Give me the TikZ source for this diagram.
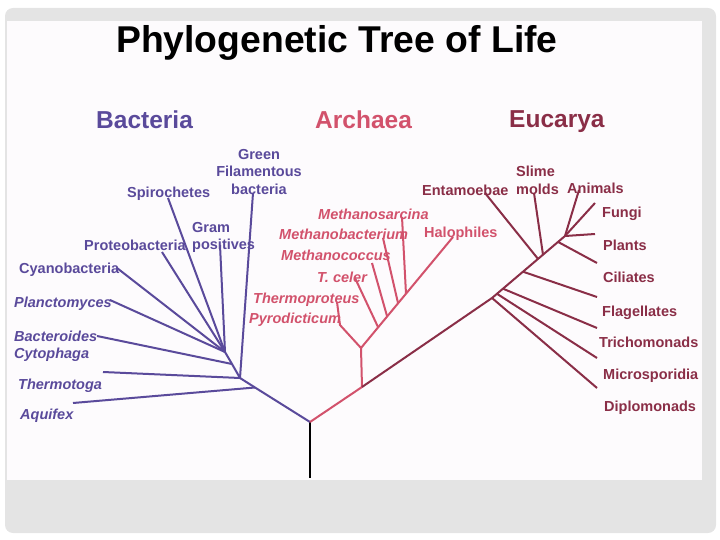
\documentclass[tikz,border=0pt]{standalone}
\usepackage{fontspec}
\setmainfont{Liberation Sans}
\usepackage{tikz}
\usetikzlibrary{positioning}
\definecolor{cBac}  {HTML}{5A4A9B}
\definecolor{cArc}  {HTML}{D2526C}
\definecolor{cEuk}  {HTML}{8A2E47}
\definecolor{cFrame}{HTML}{E4E4E4}
\definecolor{cPanel}{HTML}{FDFBFD}
\tikzset{
  lbl/.style ={inner sep=0pt,align=left,
               font=\fontsize{14.5}{17.5}\selectfont\bfseries},
  lbli/.style={lbl,font=\fontsize{14.5}{17}\selectfont\bfseries\itshape},
  hd/.style  ={inner sep=0pt,anchor=base west,
               font=\fontsize{24.5}{28}\selectfont\bfseries},
  ttl/.style ={inner sep=0pt,anchor=base west,
               font=\fontsize{37.3}{40}\selectfont\bfseries},
  br/.style  ={line width=2pt,line join=round},
  brb/.style ={br,cBac},
  bra/.style ={br,cArc},
  bre/.style ={br,cEuk},
}

\begin{document}
\begin{tikzpicture}[x=1pt,y=-1pt]
  % slide frame
  \fill[cFrame,rounded corners=8pt] (5,8) rectangle (716,533);
  \fill[cPanel] (7,21) rectangle (702,480);
  \useasboundingbox (0,0) rectangle (720,540);

  \node[ttl] (title) at (116,53) {Phylogenetic Tree of Life};
  \node[hd,text=cBac] (hbac) at (96,128.8) {Bacteria};
  \node[hd,text=cArc] (harc) at (315,129) {Archaea};
  \node[hd,text=cEuk] (heuk) at (509,128) {Eucarya};

  % bacteria labels
  \node[lbl,cBac,align=center] (green) at (259,172) {Green\\Filamentous\\bacteria};
  \node[lbl,cBac,anchor=base west] (spir) at (127,198) {Spirochetes};
  \node[lbl,cBac,anchor=north west] (gram) at (192,221.8) {Gram\\positives};
  \node[lbl,cBac,anchor=base west] (prot) at (84,250) {Proteobacteria};
  \node[lbl,cBac,anchor=base west] (cyan) at (19,273) {Cyanobacteria};
  \node[lbli,cBac,anchor=base west] (plan) at (14,307) {Planctomyces};
  \node[lbli,cBac,anchor=north west] (bact) at (14,330.8) {Bacteroides\\Cytophaga};
  \node[lbli,cBac,anchor=base west] (thtg) at (18,389) {Thermotoga};
  \node[lbli,cBac,anchor=base west] (aqui) at (20,419) {Aquifex};

  % archaea labels
  \node[lbli,cArc,anchor=base west] (msar) at (318,220) {Methanosarcina};
  \node[lbli,cArc,anchor=base west] (mbac) at (279,240) {Methanobacterium};
  \node[lbl,cArc,anchor=base west] (halo) at (424,237) {Halophiles};
  \node[lbli,cArc,anchor=base west] (mcoc) at (281,260) {Methanococcus};
  \node[lbli,cArc,anchor=base west] (tcel) at (317,282) {T. celer};
  \node[lbli,cArc,anchor=base west] (thpr) at (253,303) {Thermoproteus};
  \node[lbli,cArc,anchor=base west] (pyro) at (249,323) {Pyrodicticum};

  % eucarya labels
  \node[lbl,cEuk,anchor=base west] (enta) at (422,196) {Entamoebae};
  \node[lbl,cEuk,anchor=north west] (slim) at (516,165.8) {Slime\\molds};
  \node[lbl,cEuk,anchor=base west] (anim) at (567,194) {Animals};
  \node[lbl,cEuk,anchor=base west] (fung) at (602,218) {Fungi};
  \node[lbl,cEuk,anchor=base west] (plnt) at (603,250) {Plants};
  \node[lbl,cEuk,anchor=base west] (cili) at (603,282) {Ciliates};
  \node[lbl,cEuk,anchor=base west] (flag) at (602,316) {Flagellates};
  \node[lbl,cEuk,anchor=base west] (tric) at (599,347) {Trichomonads};
  \node[lbl,cEuk,anchor=base west] (micr) at (603,379) {Microsporidia};
  \node[lbl,cEuk,anchor=base west] (dipl) at (604,411) {Diplomonads};

  % branch points
  \coordinate (root) at (310,422);
  \coordinate (base) at (310,478);
  \coordinate (bq) at (255,387.5);
  \coordinate (b1) at (240,378);
  \coordinate (b2) at (232,364);
  \coordinate (b3) at (225,352);
  \coordinate (a0) at (362,387);
  \coordinate (a1) at (361,348);
  \coordinate (ap) at (340,325);
  \coordinate (ac) at (378,327);
  \coordinate (am) at (387,316);
  \coordinate (ab) at (398,303);
  \coordinate (as) at (406,294);
  \coordinate (eD) at (492,298);
  \coordinate (eM) at (497,293.8);
  \coordinate (eT) at (503,288.7);
  \coordinate (eF) at (523,271.7);
  \coordinate (eE) at (538,258.9);
  \coordinate (eS) at (543,254.7);
  \coordinate (eC) at (558,241.9);
  \coordinate (eP) at (565,236);

  % tips
  \coordinate (tAqu) at (73,403);
  \coordinate (tThe) at (103,372);
  \coordinate (tBct) at (97,336);
  \coordinate (tPla) at (110,300);
  \coordinate (tCya) at (117,268);
  \coordinate (tPro) at (162,252);
  \coordinate (tSpi) at (168,198);
  \coordinate (tGra) at (220,245);
  \coordinate (tGre) at (253,193);
  \coordinate (tThp) at (337,302);
  \coordinate (tCel) at (355,278);
  \coordinate (tMco) at (372,263);
  \coordinate (tMba) at (383,238);
  \coordinate (tMsa) at (402,217);
  \coordinate (tHal) at (453,237);
  \coordinate (tEnt) at (485,193);
  \coordinate (tSli) at (534,193);
  \coordinate (tAni) at (579,190);
  \coordinate (tFun) at (595,203);
  \coordinate (tPln) at (595,234);
  \coordinate (tCil) at (597,263);
  \coordinate (tFla) at (597,297);
  \coordinate (tTri) at (597,328);
  \coordinate (tMic) at (597,358);
  \coordinate (tDip) at (597,388);

  \draw[line width=2pt] (root)--(base);

  % bacteria
  \draw[brb] (root)--(bq)--(b1)--(b2)--(b3);
  \draw[brb] (bq)--(tAqu);
  \draw[brb] (b1)--(tThe);
  \draw[brb] (b1)--(tGre);
  \draw[brb] (b2)--(tBct);
  \draw[brb] (b3)--(tPla);
  \draw[brb] (b3)--(tCya);
  \draw[brb] (b3)--(tPro);
  \draw[brb] (b3)--(tSpi);
  \draw[brb] (b3)--(tGra);

  % archaea
  \draw[bra] (root)--(a0)--(a1)--(ap)--(tThp);
  \draw[bra] (a1)--(tHal);
  \draw[bra] (ac)--(tCel);
  \draw[bra] (am)--(tMco);
  \draw[bra] (ab)--(tMba);
  \draw[bra] (as)--(tMsa);

  % eucarya
  \draw[bre] (a0)--(eD)--(eP);
  \draw[bre] (eD)--(tDip);
  \draw[bre] (eM)--(tMic);
  \draw[bre] (eT)--(tTri);
  \draw[bre] (eF)--(tFla);
  \draw[bre] (eE)--(tEnt);
  \draw[bre] (eS)--(tSli);
  \draw[bre] (eC)--(tCil);
  \draw[bre] (eP)--(tPln);
  \draw[bre] (eP)--(tAni);
  \draw[bre] (eP)--(tFun);
\end{tikzpicture}
\end{document}
